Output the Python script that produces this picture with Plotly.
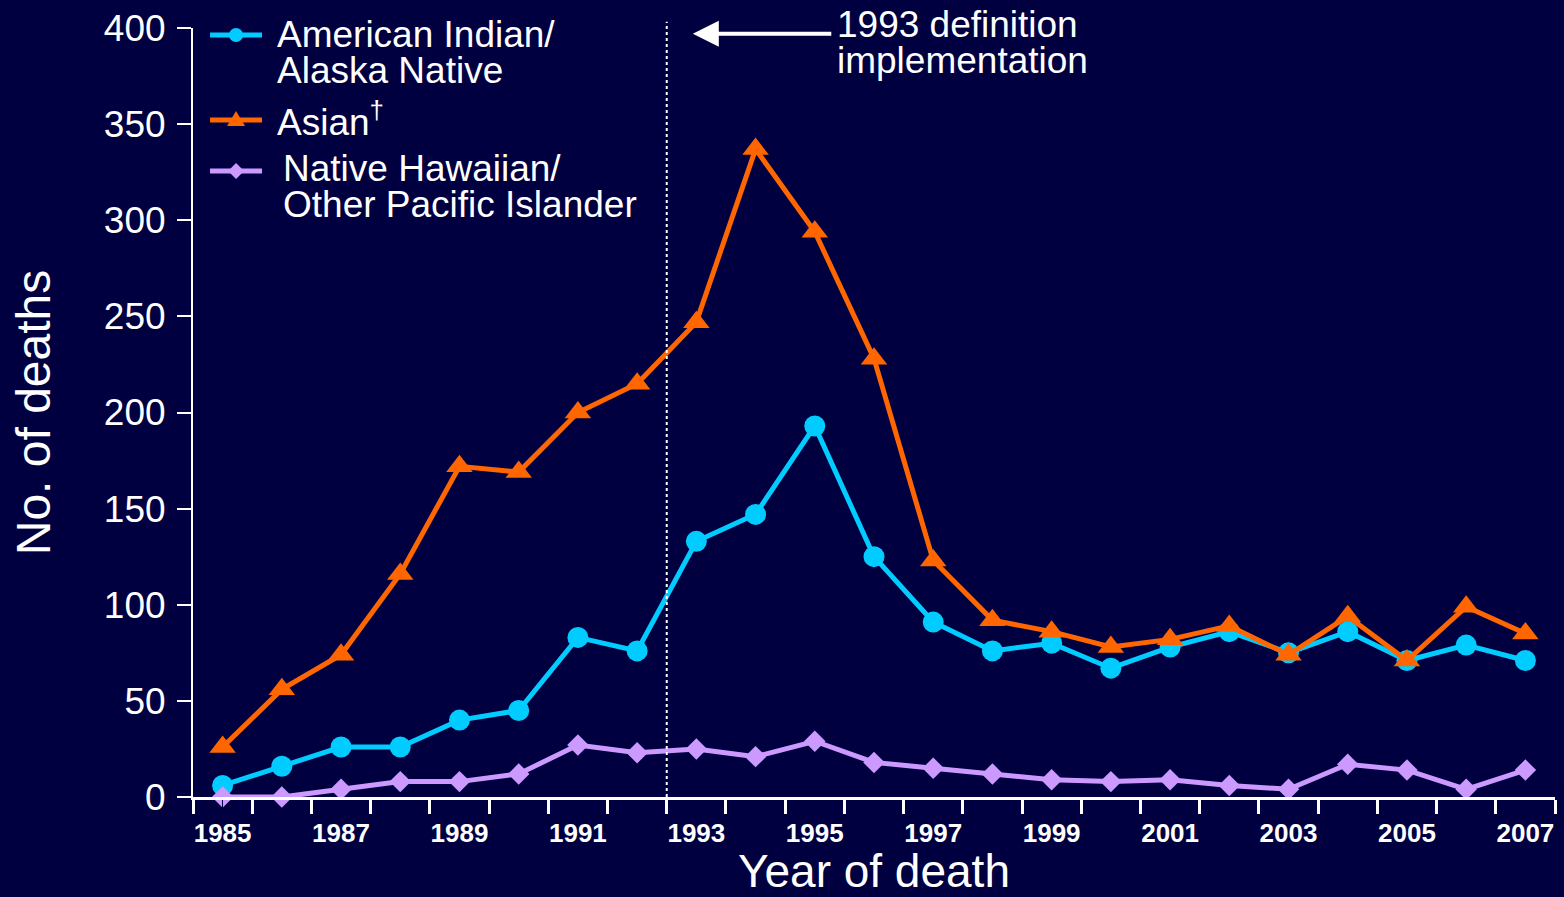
import plotly.graph_objects as go

years = list(range(1985, 2008))
aian = [6, 16, 26, 26, 40, 45, 83, 76, 133, 147, 193, 125, 91, 76, 80, 67, 78, 86, 75, 86, 71, 79, 71]
asian = [26, 56, 74, 116, 172, 169, 200, 215, 247, 337, 294, 228, 123, 92, 86, 78, 82, 89, 74, 94, 71, 99, 85]
nhopi = [0, 0, 4, 8, 8, 12, 27, 23, 25, 21, 29, 18, 15, 12, 9, 8, 9, 6, 4, 17, 14, 4, 14]

series_names = ["American Indian/Alaska Native", "Asian†", "Native Hawaiian/Other Pacific Islander"]
legend_lines = [["American Indian/", "Alaska Native"], ["Asian<sup>†</sup>"],
                ["Native Hawaiian/", "Other Pacific Islander"]]
series_colors = ["#00CCFF", "#FF6600", "#CC99FF"]
series_symbols = ["circle", "triangle-up", "diamond"]
series_sizes = [21, 23, 16.5]

y_ticks = list(range(0, 401, 50))
x_label_years = list(range(1985, 2008, 2))
definition_year = 1993
note_lines = ["1993 definition", "implementation"]

BG = "#000040"
FONT = "Liberation Sans, Arial, Helvetica, sans-serif"
BIG = 37      # visible glyph size for legend / note text
BASE = 28     # base size -> line spacing 1.3*BASE ~ 36px like the reference


def tight(lines, size=BIG):
    return "<br>".join('<span style="font-size:%dpx">%s</span>' % (size, t) for t in lines)


fig = go.Figure()
for vals, name, col, sym, sz in zip([aian, asian, nhopi], series_names, series_colors,
                                    series_symbols, series_sizes):
    fig.add_trace(go.Scatter(
        x=years, y=vals, name=name, mode="lines+markers", showlegend=False,
        line=dict(color=col, width=5),
        marker=dict(symbol=sym, size=sz, color=col, line=dict(width=0)),
        cliponaxis=False,
    ))

# vertical dotted line at the 1993 definition change
fig.add_shape(type="line", xref="x", yref="paper",
              x0=definition_year - 0.5, x1=definition_year - 0.5, y0=0, y1=1.008,
              line=dict(color="white", width=2, dash="dot"))

# arrow + label
fig.add_annotation(x=definition_year - 0.06, y=397, xref="x", yref="y",
                   ax=140, ay=0, text="", showarrow=True,
                   arrowhead=2, arrowsize=1.3, arrowwidth=4, arrowcolor="white")
fig.add_annotation(x=0.4714, y=0.9805, xref="paper", yref="paper", xanchor="left",
                   yanchor="middle", align="left", text=tight(note_lines), showarrow=False,
                   font=dict(size=BASE, color="white", family=FONT))

# custom legend (symbols as pixel-sized shapes, texts as annotations)
sym_x = 0.0316
sym_y = [0.9909, 0.8804, 0.8140]
text_x = [0.0602, 0.0602, 0.0646]
text_y = [0.9681, 0.8810, 0.7936]
for i in range(3):
    col = series_colors[i]
    common = dict(xref="paper", yref="paper", xsizemode="pixel", ysizemode="pixel",
                  xanchor=sym_x, yanchor=sym_y[i])
    fig.add_shape(type="line", x0=-26, x1=26, y0=0, y1=0,
                  line=dict(color=col, width=5), **common)
    if series_symbols[i] == "circle":
        fig.add_shape(type="circle", x0=-7, x1=7, y0=-7, y1=7,
                      fillcolor=col, line=dict(width=0), **common)
    elif series_symbols[i] == "triangle-up":
        fig.add_shape(type="path", path="M-9,-6 L9,-6 L0,9 Z",
                      fillcolor=col, line=dict(width=0), **common)
    else:
        fig.add_shape(type="path", path="M-8,0 L0,8 L8,0 L0,-8 Z",
                      fillcolor=col, line=dict(width=0), **common)
    fig.add_annotation(x=text_x[i], y=text_y[i], xref="paper", yref="paper",
                       xanchor="left", yanchor="middle", align="left",
                       text=tight(legend_lines[i]), showarrow=False,
                       font=dict(size=BASE if len(legend_lines[i]) > 1 else BIG,
                                 color="white", family=FONT))

fig.update_layout(
    width=1564, height=897,
    margin=dict(l=193, r=9, t=28, b=100, pad=0, autoexpand=False),
    paper_bgcolor=BG, plot_bgcolor=BG,
    font=dict(family=FONT, color="white"),
    showlegend=False,
    xaxis=dict(
        range=[1984.5, 2007.5], showgrid=False, zeroline=False, automargin=False,
        showline=True, linecolor="white", linewidth=3,
        tickmode="array", tickvals=x_label_years, ticktext=[str(y) for y in x_label_years],
        ticks="outside", ticklen=11, tickcolor=BG, tickwidth=1,
        tickfont=dict(size=26, color="white", family=FONT, weight="bold"),
        minor=dict(tickmode="linear", tick0=1984.5, dtick=1, ticks="outside",
                   ticklen=14, tickwidth=3, tickcolor="white", showgrid=False),
        title=dict(text="Year of death", font=dict(size=46, color="white", family=FONT),
                   standoff=15),
    ),
    yaxis=dict(
        range=[0, 400], showgrid=False, zeroline=False, automargin=False,
        showline=True, linecolor="white", linewidth=2,
        tickmode="array", tickvals=y_ticks,
        ticks="outside", ticklen=14, tickwidth=2, tickcolor="white",
        ticklabelstandoff=4,
        tickfont=dict(size=37, color="white", family=FONT),
        title=dict(text="No. of deaths", font=dict(size=48, color="white", family=FONT),
                   standoff=38),
    ),
)

fig.write_html("out.html", config={"displayModeBar": False},
               post_script="document.body.style.margin='0';document.body.style.overflow='hidden';")
